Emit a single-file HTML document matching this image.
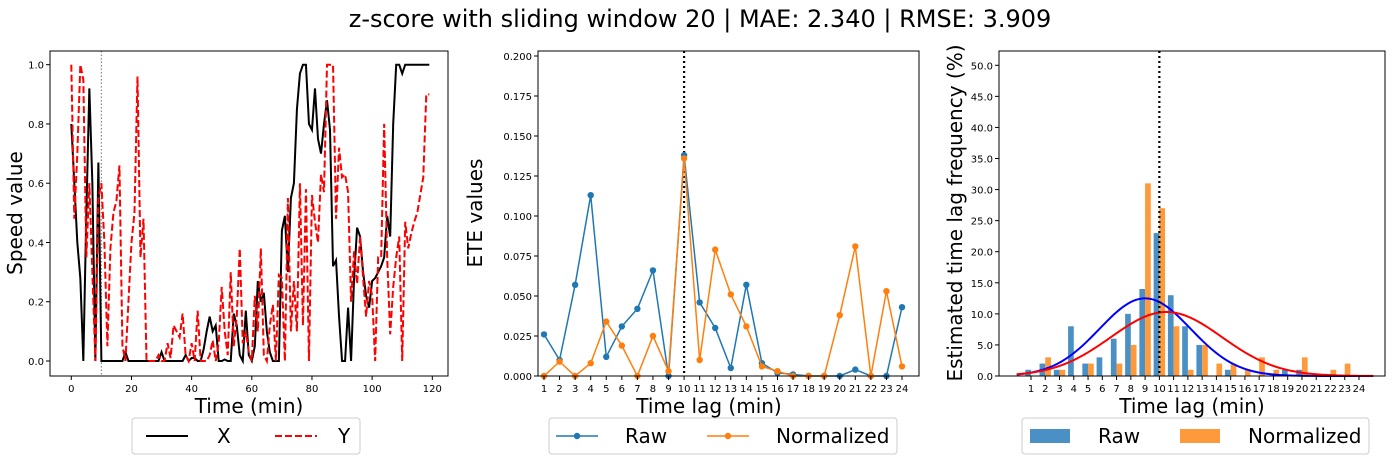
<!DOCTYPE html>
<html><head><meta charset="utf-8"><style>
body{margin:0;background:#fff;font-family:"DejaVu Sans",sans-serif}
svg text{font-family:"DejaVu Sans",sans-serif}
</style></head><body>
<svg id="c" width="1399" height="461" xmlns="http://www.w3.org/2000/svg">
<text x="700" y="27" font-size="24" text-anchor="middle">z-score with sliding window 20 | MAE: 2.340 | RMSE: 3.909</text>
</svg>
<script>
const seriesX=[0.8,0.6,0.4,0.28,0,0.5,0.92,0.6,0,0.67,0,0,0,0,0,0,0,0,0.03,0,0,0,0,0,0,0,0,0,0,0,0.03,0,0,0,0,0,0,0,0.02,0,0.01,0.01,0,0,0.04,0.1,0.15,0.1,0.12,0,0,0.005,0,0,0.16,0.12,0.02,0,0.17,0.02,0,0.05,0.27,0.2,0.23,0.1,0.03,0,0,0,0.44,0.49,0.3,0.55,0.6,0.85,0.97,1,1,0.8,0.78,0.92,0.75,0.7,0.8,0.88,0.78,0.32,0.34,0.15,0,0,0.18,0,0.28,0.45,0.42,0.3,0.22,0.18,0.27,0.28,0.3,0.32,0.35,0.49,0.42,0.8,1,1,0.97,1,1,1,1,1,1,1,1,1];
const seriesY=[1,0.48,0.7,1,0.95,0.35,0.6,0.3,0,0.55,0.6,0.4,0.05,0.38,0.5,0.54,0.66,0.05,0,0.2,0.4,0.5,0.96,0.35,0.48,0,0,0,0,0.02,0,0,0.06,0.01,0.12,0.1,0.08,0.16,0.02,0,0.06,0,0.17,0,0,0,0.02,0.07,0,0.06,0.25,0.1,0.02,0.3,0.05,0.15,0.38,0.06,0.1,0.03,0,0.22,0.1,0.38,0.02,0,0.12,0.19,0,0.29,0.28,0,0.55,0.1,0.27,0.1,0.6,0.12,0.58,0,0.56,0.47,0.4,0.63,0.57,1,1,1,0.48,0.72,0.62,0.63,0.57,0.2,0.37,0.26,0.42,0.28,0.15,0.27,0.22,0,0.35,0.35,0.8,0.35,0.09,0.25,0.35,0.42,0,0.47,0.38,0.43,0.47,0.5,0.56,0.62,0.9,0.9];
const lags=[1,2,3,4,5,6,7,8,9,10,11,12,13,14,15,16,17,18,19,20,21,22,23,24];
const eteRaw=[.026,.01,.057,.113,.012,.031,.042,.066,0,.138,.046,.030,.005,.057,.008,.002,.001,0,0,0,.004,0,0,.043];
const eteNorm=[0,.009,0,.008,.034,.019,0,.025,.003,.136,.010,.079,.051,.031,.006,.003,0,0,0,.038,.081,0,.053,.006];
const freqRaw=[1,2,1,8,2,3,6,10,14,23,13,8,5,0,1,0,0,0,1,1,0,0,0,0];
const freqNorm=[0,3,1,0,2,0,2,5,31,27,8,1,5,2,2,1,3,1,0,3,0,1,2,0];
const fitRaw=[12.5,9,3.2];
const fitNorm=[10.3,10.5,3.9];
const leftXTicks=[0,20,40,60,80,100,120];
const leftYTicks=[0,0.2,0.4,0.6,0.8,1.0];
const midYTicks=[0,.025,.05,.075,.1,.125,.15,.175,.2];
const rightYTicks=[0,5,10,15,20,25,30,35,40,45,50];

const svg=document.getElementById('c');const NS='http://www.w3.org/2000/svg';
function el(t,a,p){const e=document.createElementNS(NS,t);for(const k in a)e.setAttribute(k,a[k]);(p||svg).appendChild(e);return e;}
function txt(s,a,p){const e=el('text',a,p);e.textContent=s;return e;}
function lin(d0,d1,r0,r1){return v=>r0+(v-d0)/(d1-d0)*(r1-r0);}

function axesBox(x0,y0,x1,y1,name){
 const b=el('rect',{x:x0,y:y0,width:x1-x0,height:y1-y0,fill:'none',stroke:'#000','stroke-width':1});
 
 
}
function xticks(vals,sx,y,name,fmt){vals.forEach(v=>{el('line',{x1:sx(v),x2:sx(v),y1:y,y2:y+4,stroke:'#000'});
 const t=txt(fmt?fmt(v):v,{x:sx(v),y:y+16,'font-size':10,'text-anchor':'middle'});
 
 });}
function yticks(vals,sy,x,name,fmt){vals.forEach(v=>{el('line',{x1:x-4,x2:x,y1:sy(v),y2:sy(v),stroke:'#000'});
 const t=txt(fmt(v),{x:x-6,y:sy(v)+4,'font-size':10,'text-anchor':'end'});
 
 });}
function ylabel(s,x,cy,name){const t=txt(s,{x:x,y:cy,'font-size':20,'text-anchor':'middle',transform:`rotate(-90 ${x} ${cy})`});
 
 }
function xlabel(s,cx,y,name){const t=txt(s,{x:cx,y:y,'font-size':20,'text-anchor':'middle'});
 
 }
function poly(xs,ys,sx,sy,attrs,name){const p=el('polyline',Object.assign({points:xs.map((x,i)=>sx(x)+','+sy(ys[i])).join(' '),fill:'none'},attrs));
 
 return p;}
function legendBox(x,y,w,name){const r=el('rect',{x:x,y:y,width:w,height:36,rx:3,fill:'#fff',stroke:'#ccc'});
 
 }
function legText(s,x,y,name){const t=txt(s,{x:x,y:y,'font-size':20});
 
 }

// LEFT
{const sx=lin(0,120,71.3,432.3),sy=lin(0,1,361,64.7);
 const ts=seriesX.map((_,i)=>i);
 el('line',{x1:sx(10),x2:sx(10),y1:51,y2:376,stroke:'#888','stroke-dasharray':'1.5,2','stroke-width':1.2});
 poly(ts,seriesX,sx,sy,{stroke:'#000','stroke-width':2},'series-x-line');
 poly(seriesY.map((_,i)=>i),seriesY,sx,sy,{stroke:'#f00','stroke-width':2,'stroke-dasharray':'7,3'},'series-y-line');
 axesBox(50,51,448,376,'left-axes');
 xticks(leftXTicks,sx,376,'left');yticks(leftYTicks,sy,50,'left',v=>v.toFixed(1));
 xlabel('Time (min)',249,413,'left-x-axis-title');ylabel('Speed value',22,213,'left-y-axis-title');
 legendBox(132,418,228,'left-legend');
 el('line',{x1:146,x2:188,y1:436,y2:436,stroke:'#000','stroke-width':2});legText('X',217,443,'legend-entry-x');
 el('line',{x1:275,x2:317,y1:436,y2:436,stroke:'#f00','stroke-width':2,'stroke-dasharray':'7,3'});legText('Y',338,443,'legend-entry-y');
}
// MIDDLE
{const sx=lin(1,24,544,902),sy=lin(0,0.2,376,56);
 el('line',{x1:sx(10),x2:sx(10),y1:51,y2:376,stroke:'#000','stroke-dasharray':'2,3','stroke-width':2.2});
 [[eteRaw,'#1f77b4','raw'],[eteNorm,'#ff7f0e','normalized']].forEach(([d,c,n])=>{
  poly(lags,d,sx,sy,{stroke:c,'stroke-width':1.5},'ete-'+n+'-line');
  d.forEach((v,i)=>{const m=el('circle',{cx:sx(lags[i]),cy:sy(v),r:3.2,fill:c});
   
   });});
 axesBox(538,51,919,376,'middle-axes');
 xticks(lags,sx,376,'middle');yticks(midYTicks,sy,538,'middle',v=>v.toFixed(3));
 xlabel('Time lag (min)',709,413,'middle-x-axis-title');ylabel('ETE values',482,213,'middle-y-axis-title');
 legendBox(549,418,348,'middle-legend');
 el('line',{x1:556,x2:598,y1:436,y2:436,stroke:'#1f77b4','stroke-width':1.5});el('circle',{cx:577,cy:436,r:3.2,fill:'#1f77b4'});legText('Raw',625,443,'legend-entry-raw');
 el('line',{x1:707,x2:749,y1:436,y2:436,stroke:'#ff7f0e','stroke-width':1.5});el('circle',{cx:728,cy:436,r:3.2,fill:'#ff7f0e'});legText('Normalized',776,443,'legend-entry-normalized');
}
// RIGHT
{const sx=lin(1,24,1031,1359),sy=lin(0,52.3,376,51);const u=sx(1)-sx(0);
 freqRaw.forEach((v,i)=>{const b=el('rect',{x:sx(lags[i]-0.4),y:sy(v),width:0.4*u,height:376-sy(v),fill:'#4a90c4'});
  
  });
 freqNorm.forEach((v,i)=>{const b=el('rect',{x:sx(lags[i]),y:sy(v),width:0.4*u,height:376-sy(v),fill:'#ff9a3c'});
  
  });
 [[fitRaw,'#00f','raw'],[fitNorm,'#f00','normalized']].forEach(([f,c,n])=>{const xs=[],ys=[];
  for(let x=0;x<=25;x+=0.2){xs.push(x);ys.push(f[0]*Math.exp(-((x-f[1])**2)/(2*f[2]*f[2])));}
  poly(xs,ys,sx,sy,{stroke:c,'stroke-width':2},'fit-'+n+'-curve');});
 el('line',{x1:sx(10),x2:sx(10),y1:51,y2:376,stroke:'#000','stroke-dasharray':'2,3','stroke-width':2.2});
 axesBox(999,51,1385,376,'right-axes');
 xticks(lags,sx,376,'right');yticks(rightYTicks,sy,999,'right',v=>v.toFixed(1));
 xlabel('Time lag (min)',1192,413,'right-x-axis-title');ylabel('Estimated time lag frequency (%)',962,213,'right-y-axis-title');
 legendBox(1022,418,347,'right-legend');
 el('rect',{x:1030,y:429,width:40,height:14,fill:'#4a90c4'});legText('Raw',1098,443,'legend-entry-raw-bars');
 el('rect',{x:1180,y:429,width:40,height:14,fill:'#ff9a3c'});legText('Normalized',1248,443,'legend-entry-normalized-bars');
}
</script>
</body></html>
